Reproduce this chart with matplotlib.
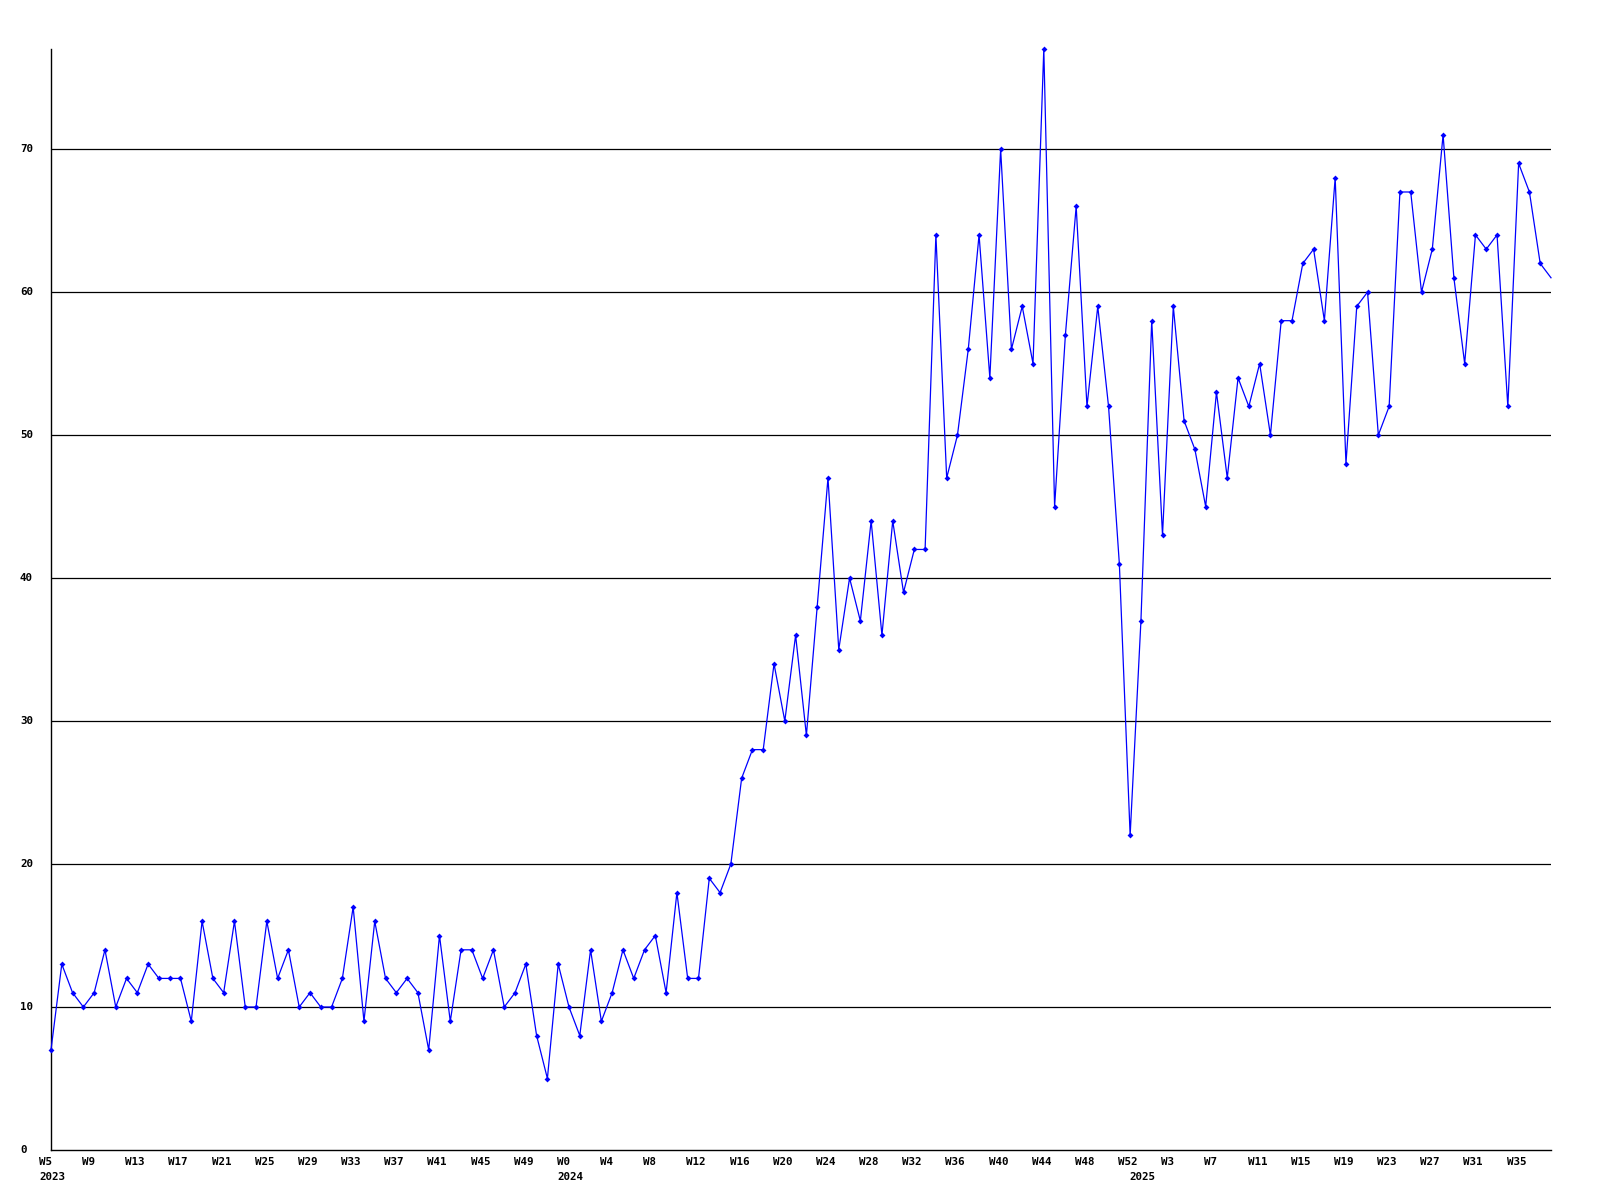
import matplotlib
matplotlib.use("Agg")
import matplotlib.pyplot as plt
from matplotlib import transforms as mtrans

values = [7, 13, 11, 10, 11, 14, 10, 12, 11, 13, 12, 12, 12, 9, 16, 12, 11, 16, 10, 10,
          16, 12, 14, 10, 11, 10, 10, 12, 17, 9, 16, 12, 11, 12, 11, 7, 15, 9, 14, 14,
          12, 14, 10, 11, 13, 8, 5, 13, 10, 8, 14, 9, 11, 14, 12, 14, 15, 11, 18, 12,
          12, 19, 18, 20, 26, 28, 28, 34, 30, 36, 29, 38, 47, 35, 40, 37, 44, 36, 44, 39,
          42, 42, 64, 47, 50, 56, 64, 54, 70, 56, 59, 55, 77, 45, 57, 66, 52, 59, 52, 41,
          22, 37, 58, 43, 59, 51, 49, 45, 53, 47, 54, 52, 55, 50, 58, 58, 62, 63, 58, 68,
          48, 59, 60, 50, 52, 67, 67, 60, 63, 71, 61, 55, 64, 63, 64, 52, 69, 67, 62, 61]

week_labels = ["W5", "W9", "W13", "W17", "W21", "W25", "W29", "W33", "W37", "W41", "W45", "W49",
               "W0", "W4", "W8", "W12", "W16", "W20", "W24", "W28", "W32", "W36", "W40", "W44",
               "W48", "W52",
               "W3", "W7", "W11", "W15", "W19", "W23", "W27", "W31", "W35"]
week_label_pos = list(range(0, 137, 4))
year_labels = ["2023", "2024", "2025"]
year_label_pos = [0, 48, 101]
y_ticks = [0, 10, 20, 30, 40, 50, 60, 70]

W, H = 1600, 1200
fig = plt.figure(figsize=(16, 12), dpi=100)
fig.patch.set_facecolor("white")
left, right, top, bottom = 51, 1551, 49, 1150
ax = fig.add_axes([left / W, 1 - bottom / H, (right - left) / W, (bottom - top) / H])

x = list(range(len(values)))
ax.set_xlim(0, len(values) - 1)
ax.set_ylim(0, 77)

for t in y_ticks[1:]:
    ax.axhline(t, color="black", lw=0.9, zorder=1)

ax.plot(x, values, color="#0000ff", lw=0.9, marker="D", ms=3.0, mew=0,
        markevery=slice(0, len(values) - 1), zorder=3, clip_on=False)

for s in ["top", "right"]:
    ax.spines[s].set_visible(False)
for s in ["left", "bottom"]:
    ax.spines[s].set_color("black")
    ax.spines[s].set_linewidth(1.0)
ax.set_xticks([])
ax.set_yticks([])

font = dict(family="DejaVu Sans Mono", weight="bold", size=7.8, color="black")

# y labels, left-aligned at a fixed x
ytrans = mtrans.blended_transform_factory(fig.transFigure, ax.transData)
for t in y_ticks:
    ax.text(20 / W, t, str(t), transform=ytrans, ha="left", va="center", **font)

# x week labels
xtrans = mtrans.blended_transform_factory(ax.transData, fig.transFigure)
xtrans = mtrans.offset_copy(xtrans, fig=fig, x=-12, y=0, units="dots")
for p, lab in zip(week_label_pos, week_labels):
    ax.text(p, 1 - 1162 / H, lab, transform=xtrans, ha="left", va="center", clip_on=False, **font)
for p, lab in zip(year_label_pos, year_labels):
    ax.text(p, 1 - 1177 / H, lab, transform=xtrans, ha="left", va="center", clip_on=False, **font)

fig.savefig("out.png", dpi=100, facecolor="white")
